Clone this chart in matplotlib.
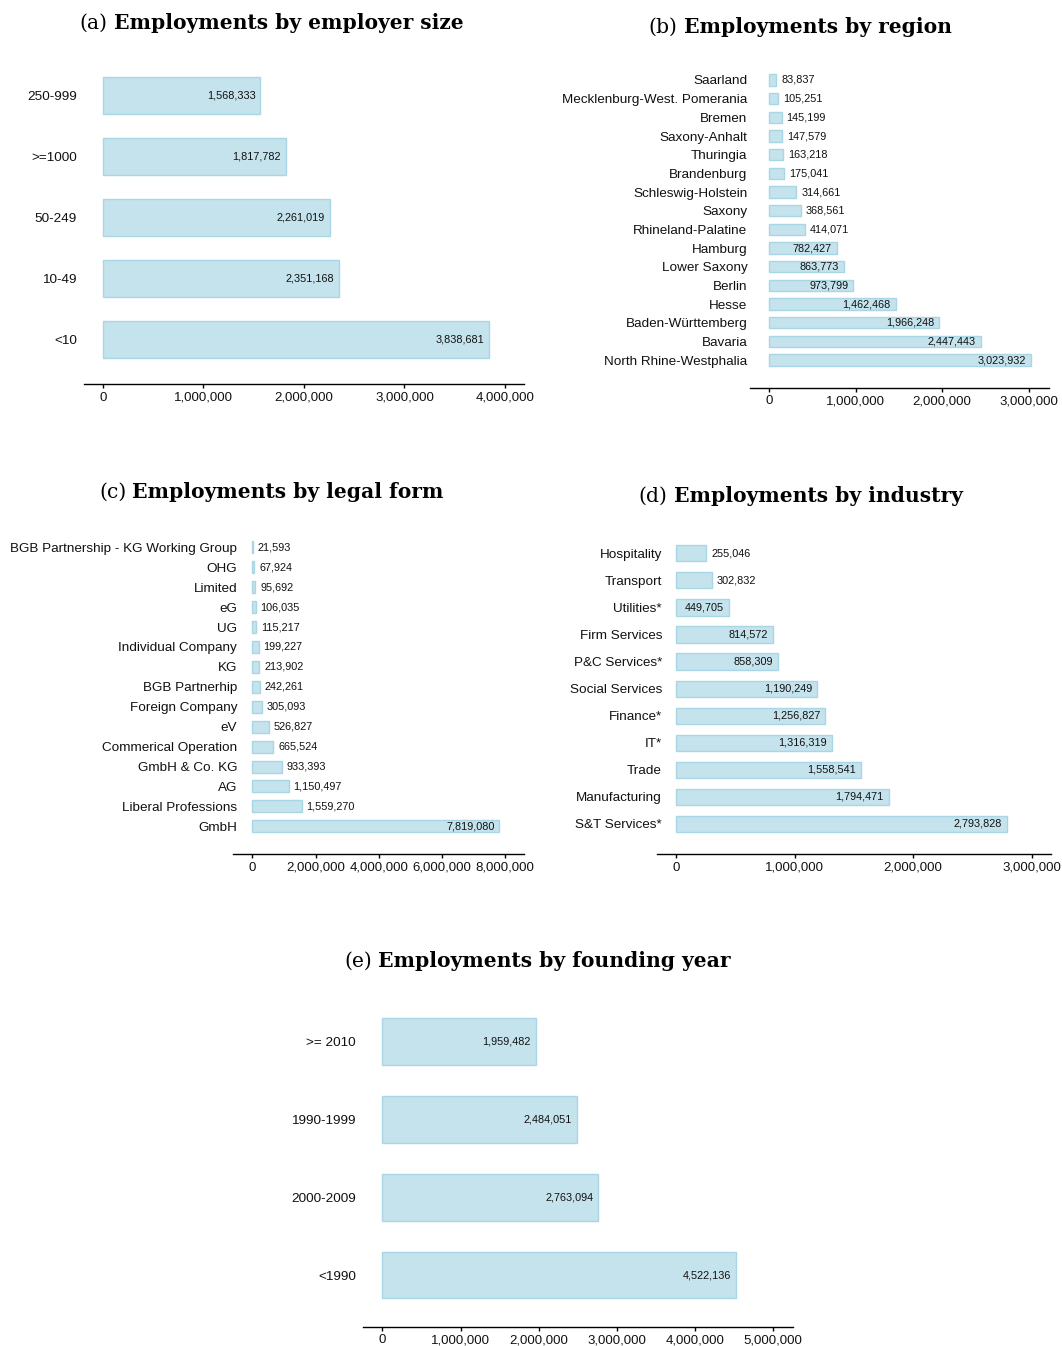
import matplotlib
matplotlib.use('Agg')
import matplotlib.pyplot as plt

plt.rcParams['font.family'] = ['Liberation Sans', 'DejaVu Sans']

# employments per employer size class
size_labels = ['250-999', '>=1000', '50-249', '10-49', '<10']
size_values = [1568333, 1817782, 2261019, 2351168, 3838681]

# employments per federal state
region_labels = ['Saarland', 'Mecklenburg-West. Pomerania', 'Bremen', 'Saxony-Anhalt',
                 'Thuringia', 'Brandenburg', 'Schleswig-Holstein', 'Saxony',
                 'Rhineland-Palatine', 'Hamburg', 'Lower Saxony', 'Berlin', 'Hesse',
                 'Baden-Württemberg', 'Bavaria', 'North Rhine-Westphalia']
region_values = [83837, 105251, 145199, 147579, 163218, 175041, 314661, 368561,
                 414071, 782427, 863773, 973799, 1462468, 1966248, 2447443, 3023932]

# employments per legal form
legal_labels = ['BGB Partnership - KG Working Group', 'OHG', 'Limited', 'eG', 'UG',
                'Individual Company', 'KG', 'BGB Partnerhip', 'Foreign Company', 'eV',
                'Commerical Operation', 'GmbH & Co. KG', 'AG', 'Liberal Professions', 'GmbH']
legal_values = [21593, 67924, 95692, 106035, 115217, 199227, 213902, 242261, 305093,
                526827, 665524, 933393, 1150497, 1559270, 7819080]

# employments per industry
industry_labels = ['Hospitality', 'Transport', 'Utilities*', 'Firm Services', 'P&C Services*',
                   'Social Services', 'Finance*', 'IT*', 'Trade', 'Manufacturing', 'S&T Services*']
industry_values = [255046, 302832, 449705, 814572, 858309, 1190249, 1256827, 1316319,
                   1558541, 1794471, 2793828]

# employments per founding year
year_labels = ['>= 2010', '1990-1999', '2000-2009', '<1990']
year_values = [1959482, 2484051, 2763094, 4522136]

W, H, DPI = 1062, 1346, 100
fig = plt.figure(figsize=(W / DPI, H / DPI), dpi=DPI)
renderer = fig.canvas.get_renderer()

BAR_FACE = (173/255, 216/255, 230/255, 0.7)
BAR_EDGE = '#a9d6e5'


def title(cx, baseline, tag, text):
    y = 1 - baseline / H
    t1 = fig.text(0, y, tag, fontfamily='DejaVu Serif', fontsize=14.6, va='baseline')
    t2 = fig.text(0, y, text, fontfamily='DejaVu Serif', fontsize=14.6,
                  fontweight='bold', va='baseline')
    w1 = t1.get_window_extent(renderer).width
    w2 = t2.get_window_extent(renderer).width
    gap = 6
    x0 = cx - (w1 + gap + w2) / 2
    t1.set_x(x0 / W)
    t2.set_x((x0 + w1 + gap) / W)


def panel(labels, values, ticks, left, right, zero, ppm, spine_y, first_y, step, label_pad):
    n = len(labels)
    gap_top = 0.75
    top = first_y - gap_top * step
    ax = fig.add_axes([left / W, 1 - spine_y / H, (right - left) / W, (spine_y - top) / H])
    ax.barh(range(n), values, height=0.6, color=BAR_FACE, edgecolor=BAR_EDGE, linewidth=1)
    ax.set_xlim((left - zero) / ppm * 1e6, (right - zero) / ppm * 1e6)
    ax.set_ylim(n - 1 + (spine_y - first_y - (n - 1) * step) / step, -gap_top)
    ax.set_yticks(range(n), labels)
    ax.set_xticks(ticks, [f'{t:,}' for t in ticks])
    for s in ['top', 'right', 'left']:
        ax.spines[s].set_visible(False)
    ax.spines['bottom'].set_linewidth(1)
    ax.tick_params(axis='y', length=0, pad=label_pad * 0.72, labelsize=9.7, labelcolor='#111')
    ax.tick_params(axis='x', length=3, width=1, pad=2.5, labelsize=9.5, labelcolor='#111')

    # value labels: inside the bar when they fit, otherwise just right of it
    pad = 5
    for i, v in enumerate(values):
        t = ax.text(v, i, f'{v:,}', fontsize=7.8, va='center', color='#111')
        tw = t.get_window_extent(renderer).width
        bar_px = v / 1e6 * ppm
        if bar_px >= tw + 2 * pad:
            t.set_x(v - pad / ppm * 1e6)
            t.set_ha('right')
        else:
            t.set_x(v + pad / ppm * 1e6)
            t.set_ha('left')
    return ax


panel(size_labels, size_values, [0, 1000000, 2000000, 3000000, 4000000],
      84, 524, 102.7, 100.6, 384.3, 95.2, 61.1, 7)
title(271.5, 29, '(a)', 'Employments by employer size')

panel(region_labels, region_values, [0, 1000000, 2000000, 3000000],
      750, 1049, 769, 86.6, 387.7, 80, 18.67, 2.7)
title(800, 33, '(b)', 'Employments by region')

panel(legal_labels, legal_values, [0, 2000000, 4000000, 6000000, 8000000],
      233, 524, 252.3, 31.6, 854, 547.3, 19.93, -4)
title(271.5, 498, '(c)', 'Employments by legal form')

panel(industry_labels, industry_values, [0, 1000000, 2000000, 3000000],
      657, 1051, 676, 118.6, 854, 553.3, 27.07, -5)
title(800.5, 502, '(d)', 'Employments by industry')

panel(year_labels, year_values, [0, 1000000, 2000000, 3000000, 4000000, 5000000],
      363, 793, 382.3, 78.2, 1326.7, 1041.7, 77.8, 7)
title(537.5, 967, '(e)', 'Employments by founding year')

fig.savefig('out.png', dpi=DPI)
